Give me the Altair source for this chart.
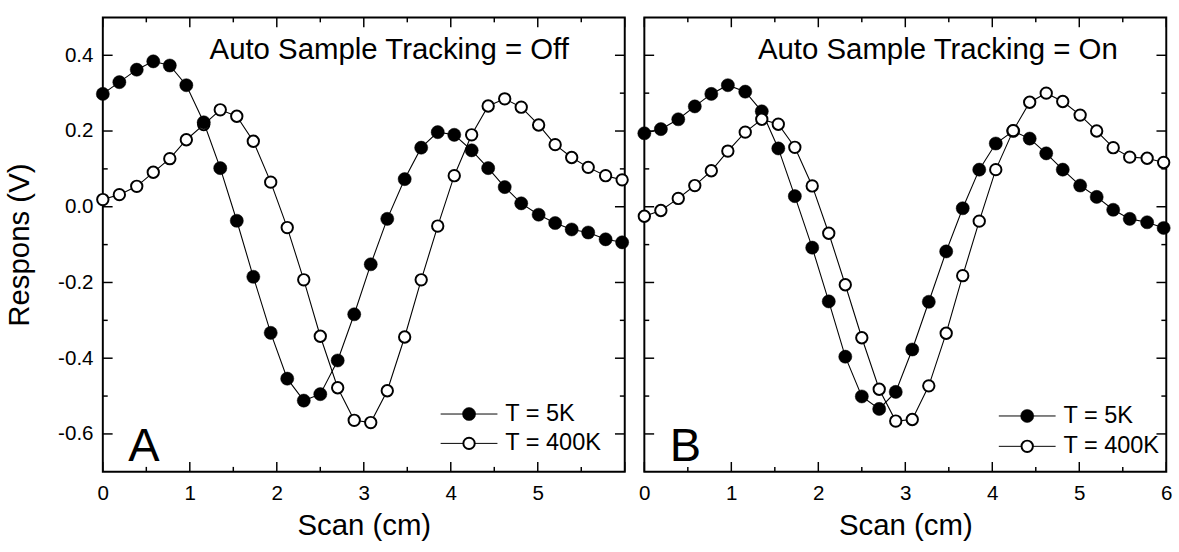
import altair as alt
import pandas as pd

# ---------------- data ----------------
X_SCAN = [0.00, 0.19, 0.39, 0.58, 0.77, 0.96, 1.16, 1.35, 1.54, 1.73, 1.93, 2.12,
          2.31, 2.50, 2.70, 2.89, 3.08, 3.27, 3.47, 3.66, 3.85, 4.04, 4.24, 4.43,
          4.62, 4.81, 5.01, 5.20, 5.39, 5.58, 5.78, 5.97]

A_5K = [0.298, 0.329, 0.362, 0.384, 0.373, 0.321, 0.223, 0.102, -0.037, -0.185,
        -0.333, -0.454, -0.512, -0.495, -0.406, -0.284, -0.152, -0.032, 0.073, 0.156,
        0.197, 0.190, 0.149, 0.102, 0.052, 0.009, -0.021, -0.043, -0.060, -0.068,
        -0.086, -0.094]
A_400K = [0.019, 0.032, 0.054, 0.091, 0.127, 0.177, 0.217, 0.256, 0.239, 0.173,
          0.065, -0.055, -0.193, -0.342, -0.478, -0.564, -0.570, -0.486, -0.344, -0.193,
          -0.051, 0.082, 0.190, 0.266, 0.285, 0.263, 0.216, 0.164, 0.130, 0.104,
          0.082, 0.071]
B_5K = [0.194, 0.205, 0.231, 0.265, 0.298, 0.321, 0.304, 0.252, 0.154, 0.028,
        -0.108, -0.250, -0.396, -0.501, -0.534, -0.489, -0.377, -0.251, -0.118, -0.004,
        0.098, 0.167, 0.200, 0.180, 0.141, 0.098, 0.056, 0.026, -0.008, -0.032,
        -0.041, -0.056]
B_400K = [-0.025, -0.010, 0.022, 0.056, 0.095, 0.147, 0.197, 0.231, 0.218, 0.157,
          0.055, -0.070, -0.206, -0.346, -0.482, -0.566, -0.562, -0.473, -0.334, -0.182,
          -0.038, 0.098, 0.201, 0.276, 0.300, 0.278, 0.242, 0.200, 0.156, 0.131,
          0.128, 0.117]

TITLES = ["Auto Sample Tracking = Off", "Auto Sample Tracking = On"]
LETTERS = ["A", "B"]
LEGEND_LABELS = ["T = 5K", "T = 400K"]
X_LABELS_A = [0, 1, 2, 3, 4, 5]
X_LABELS_B = [0, 1, 2, 3, 4, 5, 6]
X_MAJOR = [0, 1, 2, 3, 4, 5, 6]
X_MINOR = [0.5, 1.5, 2.5, 3.5, 4.5, 5.5]
Y_MAJOR = [-0.6, -0.4, -0.2, 0.0, 0.2, 0.4]
Y_MINOR = [-0.5, -0.3, -0.1, 0.1, 0.3]

# ---------------- styling ----------------
FONT = "Liberation Sans"
W, H = 533, 464
XS = alt.Scale(domain=[0, 6], nice=False, zero=False)
YS = alt.Scale(domain=[-0.7, 0.5], nice=False, zero=False)
FILLED_SIZE = 180
OPEN_SIZE = 135


def make_x_axis(x_labels):
    return alt.Axis(values=x_labels, ticks=False, domain=False, grid=False,
                    labelFontSize=21, labelPadding=11, labelFlush=False,
                    labelFont=FONT, labelColor="black", format="d",
                    title="Scan (cm)", titleFontSize=30, titleFont=FONT,
                    titleFontWeight="normal", titleColor="black",
                    titlePadding=6, minExtent=34, maxExtent=34)


def make_y_axis(show):
    if not show:
        return None
    return alt.Axis(values=Y_MAJOR, ticks=False, domain=False, grid=False,
                    labelFontSize=21, labelPadding=10, labelFont=FONT,
                    labelColor="black", format=".1f",
                    labelExpr="replace(datum.label, '\u2212', '-')",
                    title="Respons (V)", titleFontSize=30, titleFont=FONT,
                    titleFontWeight="normal", titleColor="black",
                    titlePadding=18, minExtent=52, maxExtent=52)


def panel(ys5, ys400, idx, x_labels, show_y, open_on_top, leg_x, leg_y):
    x_axis = make_x_axis(x_labels)
    y_axis = make_y_axis(show_y)

    def X(field):
        return alt.X(field, scale=XS, axis=x_axis)

    def Y(field):
        return alt.Y(field, scale=YS, axis=y_axis)

    d5 = pd.DataFrame({"x": X_SCAN, "y": ys5})
    d4 = pd.DataFrame({"x": X_SCAN, "y": ys400})

    def line(d):
        return alt.Chart(d).mark_line(color="black", strokeWidth=1.1).encode(
            x=X("x:Q"), y=Y("y:Q"))

    def filled(d):
        return alt.Chart(d).mark_point(shape="circle", filled=True, fill="black",
                                       stroke="black", strokeWidth=0.5, opacity=1,
                                       size=FILLED_SIZE).encode(x=X("x:Q"), y=Y("y:Q"))

    def hollow(d):
        return alt.Chart(d).mark_point(shape="circle", filled=True, fill="white",
                                       stroke="black", strokeWidth=2, opacity=1,
                                       size=OPEN_SIZE).encode(x=X("x:Q"), y=Y("y:Q"))

    if open_on_top:
        series = [line(d5), filled(d5), line(d4), hollow(d4)]
    else:
        series = [line(d4), hollow(d4), line(d5), filled(d5)]

    # inward ticks on all four sides
    ticks = []
    for vals, ln in ((X_MAJOR, 10), (X_MINOR, 5)):
        base = alt.Chart(pd.DataFrame({"x": vals})).mark_rule(color="black", strokeWidth=1.5)
        ticks.append(base.encode(x=X("x:Q"), y=alt.value(H), y2=alt.value(H - ln)))
        ticks.append(base.encode(x=X("x:Q"), y=alt.value(0), y2=alt.value(ln)))
    for vals, ln in ((Y_MAJOR, 10), (Y_MINOR, 5)):
        base = alt.Chart(pd.DataFrame({"y": vals})).mark_rule(color="black", strokeWidth=1.5)
        ticks.append(base.encode(y=Y("y:Q"), x=alt.value(0), x2=alt.value(ln)))
        ticks.append(base.encode(y=Y("y:Q"), x=alt.value(W), x2=alt.value(W - ln)))

    tdf = pd.DataFrame({"t": [TITLES[idx]]})
    title = alt.Chart(tdf).mark_text(align="left", baseline="middle", fontSize=30,
                                     font=FONT, color="black").encode(
        text="t:N", x=alt.value(109 if idx == 0 else 116), y=alt.value(33))
    ldf = pd.DataFrame({"t": [LETTERS[idx]]})
    letter = alt.Chart(ldf).mark_text(align="center", baseline="alphabetic", fontSize=48,
                                      font=FONT, color="black").encode(
        text="t:N", x=alt.value(42), y=alt.value(453))

    legend = []
    for k, lab in enumerate(LEGEND_LABELS):
        ly = leg_y[k]
        ldf2 = pd.DataFrame({"t": [lab]})
        legend.append(alt.Chart(ldf2).mark_rule(color="black", strokeWidth=1).encode(
            x=alt.value(leg_x - 29), x2=alt.value(leg_x + 29), y=alt.value(ly)))
        if k == 0:
            legend.append(alt.Chart(ldf2).mark_point(shape="circle", filled=True,
                                                     fill="black", stroke="black",
                                                     strokeWidth=0.5, opacity=1,
                                                     size=FILLED_SIZE).encode(
                x=alt.value(leg_x), y=alt.value(ly)))
        else:
            legend.append(alt.Chart(ldf2).mark_point(shape="circle", filled=True,
                                                     fill="white", stroke="black",
                                                     strokeWidth=2, opacity=1,
                                                     size=OPEN_SIZE).encode(
                x=alt.value(leg_x), y=alt.value(ly)))
        legend.append(alt.Chart(ldf2).mark_text(align="left", baseline="middle",
                                                fontSize=24, font=FONT,
                                                color="black").encode(
            text="t:N", x=alt.value(leg_x + 37), y=alt.value(ly)))

    return alt.layer(*series, *ticks, title, letter, *legend).properties(
        width=W, height=H)


pA = panel(A_5K, A_400K, 0, X_LABELS_A, True, False, 374, [405, 435])
pB = panel(B_5K, B_400K, 1, X_LABELS_B, False, True, 391, [407, 438])

chart = alt.hconcat(pA, pB, spacing=0).properties(
    padding={"left": 4, "top": 10, "right": 4, "bottom": 0},
    background="white",
).configure_view(stroke="black", strokeWidth=2)

chart.save("out.html", embed_options={"renderer": "svg", "actions": False})
